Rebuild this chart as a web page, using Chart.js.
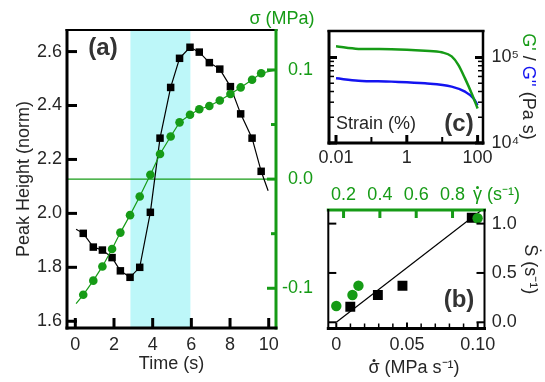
<!DOCTYPE html>
<html><head><meta charset="utf-8">
<script src="https://cdn.jsdelivr.net/npm/chart.js@4.4.1/dist/chart.umd.min.js"></script>
<style>
html,body{margin:0;padding:0;background:#fff;}
body{width:545px;height:382px;position:relative;overflow:hidden;}
canvas{position:absolute;}
</style></head><body>
<canvas id="cA" width="325" height="382" style="left:0;top:0"></canvas>
<canvas id="cC" width="245" height="180" style="left:300px;top:0"></canvas>
<canvas id="cB" width="245" height="212" style="left:300px;top:170px"></canvas>
<script>
// ---------- panel (a) data ----------
const TIME = [0.41, 0.93, 1.40, 1.90, 2.33, 2.83, 3.33, 3.88, 4.38, 4.93, 5.39, 5.93, 6.41, 6.93, 7.47, 8.02, 8.55, 9.14, 9.61];
const PEAK_HEIGHT = [1.926, 1.875, 1.864, 1.836, 1.787, 1.763, 1.800, 2.004, 2.279, 2.467, 2.575, 2.616, 2.598, 2.559, 2.535, 2.470, 2.369, 2.279, 2.156];
const STRESS = [-0.106, -0.093, -0.080, -0.064, -0.049, -0.033, -0.016, 0.004, 0.023, 0.039, 0.052, 0.059, 0.064, 0.067, 0.072, 0.078, 0.084, 0.091, 0.097];
const PEAK_LINE_END_T = [0.04, 9.97];
const PEAK_LINE_END_V = [1.941, 2.084];
const STRESS_LINE_END_T = [0.04, 10.377];
const STRESS_LINE_END_V = [-0.114, 0.100];
const BAND = [2.85, 5.95];
const TIME_TICKS = [0, 2, 4, 6, 8, 10];
const PEAK_TICKS = [1.6, 1.8, 2.0, 2.2, 2.4, 2.6];
const STRESS_TICKS = [-0.1, 0, 0.1];
const STRESS_MINOR = [-0.05, 0.05];

// ---------- panel (c) data ----------
const STRAIN_GP = [0.01, 0.043, 0.37, 3.27, 9.7, 18.5, 28.5, 44, 68, 100];
const G_PRIME = [1.35e5, 1.26e5, 1.25e5, 1.20e5, 1.15e5, 1.03e5, 8.2e4, 5.7e4, 3.8e4, 2.53e4];
const STRAIN_GPP = [0.01, 0.043, 0.37, 3.27, 18.5, 44, 77, 100];
const G_DPRIME = [5.7e4, 5.36e4, 5.22e4, 4.99e4, 4.56e4, 3.98e4, 3.32e4, 2.77e4];
const STRAIN_TICKS = [0.01, 1, 100];
const STRAIN_LABELS = ['0.01', '1', '100'];
const STRAIN_MINOR = [0.1, 10];
const MOD_TICKS = [1e4, 1e5];
const MOD_LABELS = ['10\u2074', '10\u2075'];
const MOD_MINOR = [2e4, 3e4, 4e4, 5e4, 6e4, 7e4, 8e4, 9e4];

// ---------- panel (b) data ----------
const STRESS_RATE = [0.0099, 0.0294, 0.0468, 0.0958];
const SDOT_VS_STRESS_RATE = [0.158, 0.277, 0.371, 1.060];
const SHEAR_RATE = [0.160, 0.249, 0.282, 0.938];
const SDOT_VS_SHEAR_RATE = [0.165, 0.277, 0.371, 1.054];
const FIT_X = [0, 0.1028];
const FIT_Y = [0, 1.138];
const STRESS_RATE_TICKS = [0, 0.05, 0.10];
const STRESS_RATE_LABELS = ['0', '0.05', '0.10'];
const STRESS_RATE_MINOR = [0.01, 0.02, 0.03, 0.04, 0.06, 0.07, 0.08, 0.09];
const SHEAR_RATE_TICKS = [0.2, 0.4, 0.6, 0.8];
const SDOT_TICKS = [0, 0.5, 1.0];

// ---------- style ----------
const FONT = 'Liberation Sans, Arial, Helvetica, sans-serif';
const TXT = '#262626';
const GREEN = '#169b16';
const BLUE = '#1414f0';
const CYAN = '#bdf7f9';
Chart.defaults.font.family = FONT;
Chart.defaults.font.size = 18;
Chart.defaults.color = TXT;
Chart.defaults.animation = false;
Chart.defaults.events = [];
Chart.defaults.plugins.legend.display = false;
Chart.defaults.plugins.tooltip.enabled = false;

const f18 = {family: FONT, size: 18};
const setTicks = vals => s => { s.ticks = vals.map(v => ({value: v})); };

// plugin: shaded band, inner tick marks, frame, free texts
const decor = {
  id: 'decor',
  beforeDatasetsDraw(chart, args, o) {
    if (!o.band) return;
    const {ctx, chartArea: a} = chart;
    const s = chart.scales[o.band.scale];
    const x0 = s.getPixelForValue(o.band.range[0]);
    const x1 = s.getPixelForValue(o.band.range[1]);
    ctx.save();
    ctx.fillStyle = o.band.color;
    ctx.fillRect(x0, a.top, x1 - x0, a.bottom - a.top);
    ctx.restore();
  },
  afterDatasetsDraw(chart, args, o) {
    const {ctx, chartArea: a} = chart;
    ctx.save();
    ctx.lineCap = 'butt';
    for (const t of (o.ticks || [])) {
      const s = chart.scales[t.scale];
      ctx.strokeStyle = t.color; ctx.lineWidth = t.width;
      for (const v of t.values) {
        const p = s.getPixelForValue(v);
        ctx.beginPath();
        if (t.side === 'left') { ctx.moveTo(a.left, p); ctx.lineTo(a.left + t.len, p); }
        else if (t.side === 'right') { ctx.moveTo(a.right, p); ctx.lineTo(a.right - t.len, p); }
        else if (t.side === 'bottom') { ctx.moveTo(p, a.bottom); ctx.lineTo(p, a.bottom - t.len); }
        else { ctx.moveTo(p, a.top); ctx.lineTo(p, a.top + t.len); }
        ctx.stroke();
      }
    }
    const fr = o.frame || {};
    for (const side of ['top', 'right', 'bottom', 'left']) {
      const e = fr[side]; if (!e) continue;
      ctx.strokeStyle = e.color; ctx.lineWidth = e.width;
      ctx.beginPath();
      if (side === 'top') { ctx.moveTo(a.left - 1.5, a.top); ctx.lineTo(a.right + 1.5, a.top); }
      if (side === 'bottom') { ctx.moveTo(a.left - 1.5, a.bottom); ctx.lineTo(a.right + 1.5, a.bottom); }
      if (side === 'left') { ctx.moveTo(a.left, a.top - 1); ctx.lineTo(a.left, a.bottom + 1.5); }
      if (side === 'right') { ctx.moveTo(a.right, a.top - 1); ctx.lineTo(a.right, a.bottom + 1.5); }
      ctx.stroke();
    }
    ctx.restore();
  },
  afterDraw(chart, args, o) {
    const {ctx} = chart;
    for (const t of (o.texts || [])) {
      ctx.save();
      ctx.font = (t.bold ? 'bold ' : '') + (t.size || 18) + 'px ' + FONT;
      ctx.textBaseline = 'middle';
      ctx.translate(t.x, t.y);
      if (t.rot) ctx.rotate(t.rot);
      const parts = t.parts || [{text: t.text, color: t.color || TXT}];
      const total = parts.reduce((acc, p) => acc + ctx.measureText(p.text).width, 0);
      let x = t.align === 'left' ? 0 : -total / 2;
      ctx.textAlign = 'left';
      for (const p of parts) {
        const w = ctx.measureText(p.text).width;
        ctx.fillStyle = p.color || TXT;
        ctx.fillText(p.text, x, 0);
        if (p.dot) {
          ctx.beginPath();
          ctx.arc(x + w / 2 + (p.dotDx || 0), -7.5, 1.5, 0, Math.PI * 2);
          ctx.fill();
        }
        x += w;
      }
      ctx.restore();
    }
  }
};

// ================= panel (a) =================
const peakLine = [{x: PEAK_LINE_END_T[0], y: PEAK_LINE_END_V[0]}]
  .concat(TIME.map((t, i) => ({x: t, y: PEAK_HEIGHT[i]})))
  .concat([{x: PEAK_LINE_END_T[1], y: PEAK_LINE_END_V[1]}]);
const stressLine = [{x: STRESS_LINE_END_T[0], y: STRESS_LINE_END_V[0]}]
  .concat(TIME.map((t, i) => ({x: t, y: STRESS[i]})))
  .concat([{x: STRESS_LINE_END_T[1], y: STRESS_LINE_END_V[1]}]);
const endsHidden = (n, r) => Array.from({length: n}, (_, i) => (i === 0 || i === n - 1) ? 0 : r);

new Chart(document.getElementById('cA'), {
  type: 'scatter',
  data: {datasets: [
    {data: [{x: -0.43, y: 0}, {x: 10.377, y: 0}], yAxisID: 'y2', showLine: true, borderColor: GREEN, borderWidth: 1.2, pointRadius: 0, order: 5},
    {data: peakLine, yAxisID: 'y', showLine: true, borderColor: '#000', borderWidth: 1.2,
     pointStyle: 'rect', pointRadius: endsHidden(peakLine.length, 5.3), backgroundColor: '#000', pointBorderWidth: 0, order: 2},
    {data: stressLine, yAxisID: 'y2', showLine: true, borderColor: GREEN, borderWidth: 1.2,
     pointStyle: 'circle', pointRadius: endsHidden(stressLine.length, 4.3), backgroundColor: GREEN, pointBorderWidth: 0, order: 1}
  ]},
  options: {
    responsive: false,
    layout: {padding: {top: 30, left: 0, right: 12, bottom: 0}},
    scales: {
      x: {type: 'linear', position: 'bottom', min: -0.43, max: 10.377,
          grid: {display: false, drawTicks: false}, border: {display: false},
          afterBuildTicks: setTicks(TIME_TICKS),
          ticks: {font: f18, padding: 6.7, maxRotation: 0, autoSkip: false, callback: v => String(v)},
          title: {display: true, text: 'Time (s)', font: f18, padding: {top: 0, bottom: 7.2}},
          afterFit: s => { s.height = 54; }},
      y: {type: 'linear', position: 'left', min: 1.575, max: 2.680,
          grid: {display: false, drawTicks: false}, border: {display: false},
          afterBuildTicks: setTicks(PEAK_TICKS),
          ticks: {font: f18, padding: 5, autoSkip: false, callback: v => v.toFixed(1)},
          title: {display: true, text: 'Peak Height (norm)', font: f18, padding: {top: 13, bottom: 0}},
          afterFit: s => { s.width = 67; }},
      y2: {type: 'linear', position: 'right', min: -0.1364, max: 0.1366,
          grid: {display: false, drawTicks: false}, border: {display: false},
          afterBuildTicks: setTicks(STRESS_TICKS),
          ticks: {font: f18, color: GREEN, padding: 3, crossAlign: 'far', autoSkip: false, callback: v => v.toFixed(1)},
          afterFit: s => { s.width = 313 - 276; }}
    },
    plugins: {
      decor: {
        band: {scale: 'x', range: BAND, color: CYAN},
        ticks: [
          {scale: 'y', side: 'left', values: PEAK_TICKS, len: 10, width: 3, color: '#000'},
          {scale: 'x', side: 'bottom', values: TIME_TICKS, len: 10, width: 3, color: '#000'},
          {scale: 'y2', side: 'right', values: STRESS_TICKS, len: 9, width: 3, color: GREEN},
          {scale: 'y2', side: 'right', values: STRESS_MINOR, len: 5, width: 3, color: GREEN}
        ],
        frame: {top: {color: '#000', width: 2}, left: {color: '#000', width: 3}, bottom: {color: '#000', width: 3}, right: {color: GREEN, width: 3}},
        texts: [
          {text: '(a)', x: 103, y: 48, size: 24, bold: true, color: '#333'},
          {text: '\u03c3 (MPa)', x: 282, y: 19, color: GREEN}
        ]
      }
    }
  },
  plugins: [decor]
});

// ================= panel (c) =================
new Chart(document.getElementById('cC'), {
  type: 'scatter',
  data: {datasets: [
    {data: STRAIN_GPP.map((x, i) => ({x, y: G_DPRIME[i]})), showLine: true, borderColor: BLUE, borderWidth: 2.5, pointRadius: 0, cubicInterpolationMode: 'monotone', order: 2},
    {data: STRAIN_GP.map((x, i) => ({x, y: G_PRIME[i]})), showLine: true, borderColor: GREEN, borderWidth: 2.5, pointRadius: 0, cubicInterpolationMode: 'monotone', order: 1}
  ]},
  options: {
    responsive: false,
    layout: {padding: {top: 31, left: 29, right: 0, bottom: 0}},
    scales: {
      x: {type: 'logarithmic', position: 'bottom', min: 0.00634, max: 142,
          grid: {display: false, drawTicks: false}, border: {display: false},
          afterBuildTicks: setTicks(STRAIN_TICKS),
          ticks: {font: f18, padding: 4.5, maxRotation: 0, autoSkip: false,
                  callback: v => STRAIN_LABELS[STRAIN_TICKS.indexOf(v)]},
          afterFit: s => { s.height = 180 - 143; }},
      y: {type: 'logarithmic', position: 'right', min: 1e4, max: 2.04e5,
          grid: {display: false, drawTicks: false}, border: {display: false},
          afterBuildTicks: setTicks(MOD_TICKS),
          ticks: {font: f18, padding: 8.5, autoSkip: false,
                  callback: v => MOD_LABELS[MOD_TICKS.indexOf(v)]},
          afterFit: s => { s.width = 245 - 183; }}
    },
    plugins: {
      decor: {
        ticks: [
          {scale: 'y', side: 'left', values: MOD_TICKS, len: 8, width: 3, color: '#000'},
          {scale: 'y', side: 'right', values: MOD_TICKS, len: 8, width: 3, color: '#000'},
          {scale: 'y', side: 'left', values: MOD_MINOR, len: 5, width: 1.5, color: '#000'},
          {scale: 'y', side: 'right', values: MOD_MINOR, len: 5, width: 1.5, color: '#000'},
          {scale: 'x', side: 'bottom', values: STRAIN_TICKS, len: 8, width: 3, color: '#000'},
          {scale: 'x', side: 'bottom', values: STRAIN_MINOR, len: 6, width: 2, color: '#000'}
        ],
        frame: {top: {color: '#000', width: 2.5}, left: {color: '#000', width: 3}, bottom: {color: '#000', width: 3}, right: {color: '#000', width: 2.5}},
        texts: [
          {text: 'Strain (%)', x: 36, y: 124.5, align: 'left'},
          {text: '(c)', x: 159, y: 124, size: 24, bold: true, color: '#333'},
          {x: 227.5, y: 86.5, rot: Math.PI / 2, parts: [
            {text: "G'", color: GREEN}, {text: ' / ', color: TXT}, {text: "G''", color: BLUE}, {text: ' (Pa s)', color: TXT}]}
        ]
      }
    }
  },
  plugins: [decor]
});

// ================= panel (b) =================
new Chart(document.getElementById('cB'), {
  type: 'scatter',
  data: {datasets: [
    {data: FIT_X.map((x, i) => ({x, y: FIT_Y[i]})), xAxisID: 'x', yAxisID: 'y', showLine: true, borderColor: '#000', borderWidth: 1.2, pointRadius: 0, order: 3},
    {data: STRESS_RATE.map((x, i) => ({x, y: SDOT_VS_STRESS_RATE[i]})), xAxisID: 'x', yAxisID: 'y',
     pointStyle: 'rect', pointRadius: 7, backgroundColor: '#000', pointBorderWidth: 0, order: 2},
    {data: SHEAR_RATE.map((x, i) => ({x, y: SDOT_VS_SHEAR_RATE[i]})), xAxisID: 'x2', yAxisID: 'y',
     pointStyle: 'circle', pointRadius: 5.2, backgroundColor: GREEN, pointBorderWidth: 0, order: 1}
  ]},
  options: {
    responsive: false,
    layout: {padding: {top: 0, left: 28.3, right: 0, bottom: 0}},
    scales: {
      x: {type: 'linear', position: 'bottom', min: -0.00565, max: 0.1048,
          grid: {display: false, drawTicks: false}, border: {display: false},
          afterBuildTicks: setTicks(STRESS_RATE_TICKS),
          ticks: {font: f18, padding: 6.2, maxRotation: 0, autoSkip: false,
                  callback: v => STRESS_RATE_LABELS[STRESS_RATE_TICKS.indexOf(v)]},
          afterFit: s => { s.height = 212 - 158.5; }},
      x2: {type: 'linear', position: 'top', min: 0.116, max: 0.976,
          grid: {display: false, drawTicks: false}, border: {display: false},
          afterBuildTicks: setTicks(SHEAR_RATE_TICKS),
          ticks: {font: f18, color: GREEN, padding: 4.2, maxRotation: 0, autoSkip: false, callback: v => v.toFixed(1)},
          afterFit: s => { s.height = 40; }},
      y: {type: 'linear', position: 'right', min: -0.063, max: 1.138,
          grid: {display: false, drawTicks: false}, border: {display: false},
          afterBuildTicks: setTicks(SDOT_TICKS),
          ticks: {font: f18, padding: 7.2, autoSkip: false, callback: v => v.toFixed(1)},
          title: {display: true, text: '\u1e60 (s\u207b\u00b9)', font: f18, padding: {top: 4.7, bottom: 0}},
          afterFit: s => { s.width = 245 - 184.5; }}
    },
    plugins: {
      decor: {
        ticks: [
          {scale: 'y', side: 'left', values: SDOT_TICKS, len: 8, width: 2, color: '#000'},
          {scale: 'y', side: 'right', values: SDOT_TICKS, len: 8, width: 2, color: '#000'},
          {scale: 'x', side: 'bottom', values: STRESS_RATE_TICKS, len: 6, width: 2, color: '#000'},
          {scale: 'x', side: 'bottom', values: STRESS_RATE_MINOR, len: 5, width: 1.5, color: '#000'},
          {scale: 'x2', side: 'top', values: SHEAR_RATE_TICKS, len: 8, width: 3, color: GREEN}
        ],
        frame: {top: {color: GREEN, width: 3}, left: {color: '#000', width: 2}, bottom: {color: '#000', width: 3}, right: {color: '#000', width: 2}},
        texts: [
          {text: '(b)', x: 159, y: 130, size: 24, bold: true, color: '#333'},
          {x: 114, y: 198, parts: [{text: '\u03c3', color: TXT, dot: true}, {text: ' (MPa s\u207b\u00b9)', color: TXT}]},
          {x: 173, y: 25, align: 'left', parts: [{text: '\u03b3', color: GREEN, dot: true}, {text: ' (s\u207b\u00b9)', color: GREEN}]}
        ]
      }
    }
  },
  plugins: [decor]
});
</script>
</body></html>
